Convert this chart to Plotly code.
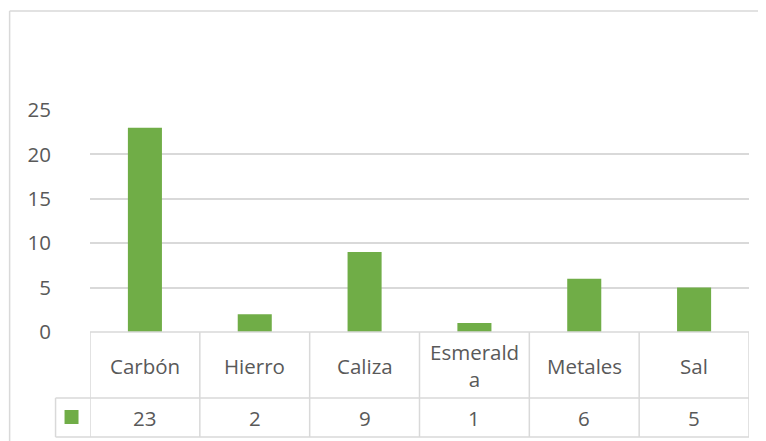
import plotly.graph_objects as go

categories = ["Carbón", "Hierro", "Caliza", "Esmeralda", "Metales", "Sal"]
table_labels = ["Carbón", "Hierro", "Caliza", "Esmerald<br>a", "Metales", "Sal"]
values = [23, 2, 9, 1, 6, 5]
y_ticks = [0, 5, 10, 15, 20, 25]

GREEN = "#70ad47"
GRID = "#d9d9d9"
TEXT = "#595959"
FONT = "Open Sans"
FS = 20.5

fig = go.Figure(go.Bar(x=list(range(len(categories))), y=values, marker_color=GREEN,
                       marker_line_width=0))

OFF = 8  # page body margin
W, H = 766 - OFF, 441 - OFF
# plot area in window pixels: x 89.5..749.5, y 110..332
L = 89.5 - OFF
T = 110 - OFF
R = W - (749.5 - OFF)
B = H - (332 - OFF)
pw = W - L - R
ph = H - T - B

def py(p):  # window pixel y -> paper y
    return ((H - B) - (p - OFF)) / ph

def px(p):  # window pixel x -> paper x
    return ((p - OFF) - L) / pw

shapes = []
line = dict(color=GRID, width=1.5)
n = len(categories)
shapes.append(dict(type="line", xref="x", yref="paper", x0=-0.5, x1=n - 0.5, y0=0, y1=0, line=line))
shapes.append(dict(type="line", xref="paper", yref="paper", x0=px(55), x1=1, y0=py(398), y1=py(398), line=line))
shapes.append(dict(type="line", xref="paper", yref="paper", x0=px(55), x1=1, y0=py(437), y1=py(437), line=line))
for i in range(n + 1):
    shapes.append(dict(type="line", xref="x", yref="paper", x0=i - 0.5, x1=i - 0.5,
                       y0=0, y1=py(437), line=line))
shapes.append(dict(type="line", xref="paper", yref="paper", x0=px(55), x1=px(55),
                   y0=py(398), y1=py(437), line=line))
# legend key
shapes.append(dict(type="rect", xref="paper", yref="paper", x0=px(64), x1=px(78),
                   y0=py(424), y1=py(410), fillcolor=GREEN, line=dict(width=0)))
# chart frame
shapes.append(dict(type="line", xref="paper", yref="paper", x0=px(9), x1=px(800),
                   y0=py(11), y1=py(11), line=line))
shapes.append(dict(type="line", xref="paper", yref="paper", x0=px(9), x1=px(9),
                   y0=py(11), y1=py(460), line=line))

annotations = []
for i, (lab, v) in enumerate(zip(table_labels, values)):
    annotations.append(dict(x=i, y=py(365.5), xref="x", yref="paper", text=lab, showarrow=False,
                            font=dict(family=FONT, size=FS, color=TEXT), yanchor="middle",
                            xanchor="center"))
    annotations.append(dict(x=i, y=py(417.5), xref="x", yref="paper", text=str(v), showarrow=False,
                            font=dict(family=FONT, size=FS, color=TEXT), yanchor="middle",
                            xanchor="center"))

fig.update_layout(
    width=W, height=H,
    margin=dict(l=L, r=R, t=T, b=B, pad=0),
    paper_bgcolor="white", plot_bgcolor="white",
    bargap=0.69,
    showlegend=False,
    shapes=shapes,
    annotations=annotations,
    xaxis=dict(range=[-0.5, n - 0.5], showticklabels=False, showgrid=False, zeroline=False,
               showline=False, ticks=""),
    yaxis=dict(range=[0, 25], tickvals=y_ticks, showgrid=True, gridcolor=GRID, gridwidth=1.5,
               zeroline=False, showline=False, ticks="", ticklabelstandoff=38,
               tickfont=dict(family=FONT, size=FS, color=TEXT)),
)

fig.write_html("out.html")
